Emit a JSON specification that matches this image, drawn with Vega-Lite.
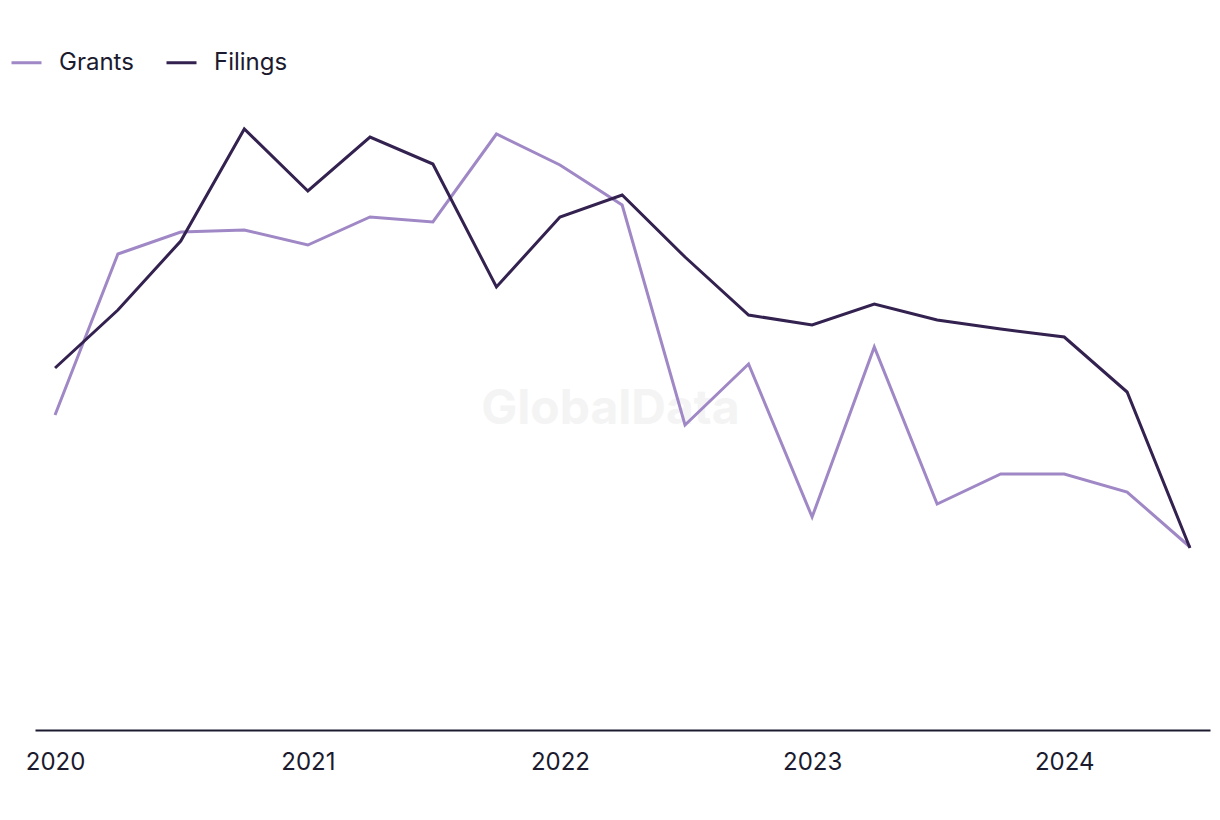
{
  "$schema": "https://vega.github.io/schema/vega-lite/v6.json",
  "autosize": {"type": "none"},
  "padding": {"left": 35, "top": 80, "right": 10, "bottom": 90},
  "width": 1175,
  "height": 650,
  "background": "white",
  "config": {"view": {"stroke": null}, "font": "Inter"},
  "layer": [
    {
      "data": {"values": [{"date": "2022-03-15", "value": 64, "label": "GlobalData"}]},
      "mark": {"type": "text", "fontSize": 48, "fontWeight": "bold", "color": "#f4f4f4", "font": "Inter"},
      "encoding": {
        "x": {
          "field": "date", "type": "temporal",
          "scale": {"domain": ["2019-12-03", "2024-07-30"]},
          "axis": {
            "title": null, "format": "%Y", "grid": false, "ticks": false,
            "tickCount": {"interval": "year", "step": 1},
            "domainColor": "#1b1a2e", "domainWidth": 2,
            "labelFontSize": 24, "labelColor": "#1b1a2e", "labelPadding": 20,
            "labelFont": "Inter", "labelFlush": false
          }
        },
        "y": {"field": "value", "type": "quantitative", "scale": {"domain": [0, 130], "nice": false}, "axis": null},
        "text": {"field": "label", "type": "nominal"}
      }
    },
    {
      "data": {"values": [
        {"date": "2020-01-01", "series": "Grants", "value": 63.0},
        {"date": "2020-04-01", "series": "Grants", "value": 95.2},
        {"date": "2020-07-01", "series": "Grants", "value": 99.6},
        {"date": "2020-10-01", "series": "Grants", "value": 100.0},
        {"date": "2021-01-01", "series": "Grants", "value": 97.0},
        {"date": "2021-04-01", "series": "Grants", "value": 102.6},
        {"date": "2021-07-01", "series": "Grants", "value": 101.6},
        {"date": "2021-10-01", "series": "Grants", "value": 119.2},
        {"date": "2022-01-01", "series": "Grants", "value": 113.0},
        {"date": "2022-04-01", "series": "Grants", "value": 105.0},
        {"date": "2022-07-01", "series": "Grants", "value": 61.0},
        {"date": "2022-10-01", "series": "Grants", "value": 73.2},
        {"date": "2023-01-01", "series": "Grants", "value": 42.6},
        {"date": "2023-04-01", "series": "Grants", "value": 76.6},
        {"date": "2023-07-01", "series": "Grants", "value": 45.2},
        {"date": "2023-10-01", "series": "Grants", "value": 51.2},
        {"date": "2024-01-01", "series": "Grants", "value": 51.2},
        {"date": "2024-04-01", "series": "Grants", "value": 47.6},
        {"date": "2024-07-01", "series": "Grants", "value": 36.6},
        {"date": "2020-01-01", "series": "Filings", "value": 72.4},
        {"date": "2020-04-01", "series": "Filings", "value": 84.0},
        {"date": "2020-07-01", "series": "Filings", "value": 97.8},
        {"date": "2020-10-01", "series": "Filings", "value": 120.2},
        {"date": "2021-01-01", "series": "Filings", "value": 107.8},
        {"date": "2021-04-01", "series": "Filings", "value": 118.6},
        {"date": "2021-07-01", "series": "Filings", "value": 113.2},
        {"date": "2021-10-01", "series": "Filings", "value": 88.6},
        {"date": "2022-01-01", "series": "Filings", "value": 102.6},
        {"date": "2022-04-01", "series": "Filings", "value": 107.0},
        {"date": "2022-07-01", "series": "Filings", "value": 94.6},
        {"date": "2022-10-01", "series": "Filings", "value": 83.0},
        {"date": "2023-01-01", "series": "Filings", "value": 81.0},
        {"date": "2023-04-01", "series": "Filings", "value": 85.2},
        {"date": "2023-07-01", "series": "Filings", "value": 82.0},
        {"date": "2023-10-01", "series": "Filings", "value": 80.2},
        {"date": "2024-01-01", "series": "Filings", "value": 78.6},
        {"date": "2024-04-01", "series": "Filings", "value": 67.6},
        {"date": "2024-07-01", "series": "Filings", "value": 36.4}
      ]},
      "mark": {"type": "line", "strokeWidth": 3},
      "encoding": {
        "x": {
          "field": "date", "type": "temporal",
          "scale": {"domain": ["2019-12-03", "2024-07-30"]},
          "axis": {
            "title": null, "format": "%Y", "grid": false, "ticks": false,
            "tickCount": {"interval": "year", "step": 1},
            "domainColor": "#1b1a2e", "domainWidth": 2,
            "labelFontSize": 24, "labelColor": "#1b1a2e", "labelPadding": 20,
            "labelFont": "Inter", "labelFlush": false
          }
        },
        "y": {
          "field": "value", "type": "quantitative",
          "scale": {"domain": [0, 130], "nice": false},
          "axis": null
        },
        "color": {
          "field": "series", "type": "nominal",
          "scale": {"domain": ["Grants", "Filings"], "range": ["#9f88c5", "#33214f"]},
          "legend": {
            "title": null, "orient": "none", "direction": "horizontal",
            "legendX": -25, "legendY": -34,
            "symbolType": "stroke", "symbolSize": 900, "symbolStrokeWidth": 3,
            "labelFontSize": 24, "labelColor": "#1b1a2e", "labelFont": "Inter",
            "columnPadding": 26, "labelOffset": 16
          }
        }
      }
    }
  ]
}
